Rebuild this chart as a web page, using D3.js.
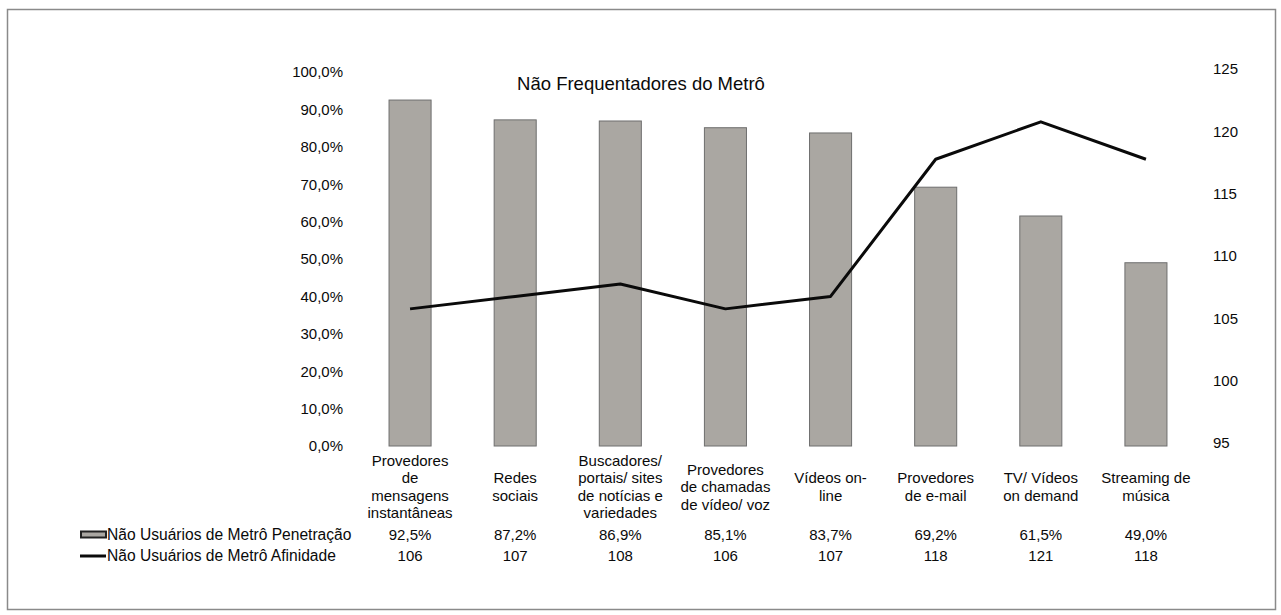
<!DOCTYPE html>
<html>
<head>
<meta charset="utf-8">
<script src="https://cdn.jsdelivr.net/npm/d3@7"></script>
<style>
  html, body { margin: 0; padding: 0; background: #fff; }
  svg { display: block; }
  text { font-family: "Liberation Sans", Arial, Helvetica, sans-serif; fill: #0a0a0a; }
</style>
</head>
<body>
<svg id="chart" width="1281" height="615"></svg>
<script>
// Categories (each entry is the wrapped lines of the label)
const categories = [
  ["Provedores", "de", "mensagens", "instantâneas"],
  ["Redes", "sociais"],
  ["Buscadores/", "portais/ sites", "de notícias e", "variedades"],
  ["Provedores", "de chamadas", "de vídeo/ voz"],
  ["Vídeos on-", "line"],
  ["Provedores", "de e-mail"],
  ["TV/ Vídeos", "on demand"],
  ["Streaming de", "música"]
];

// Penetration share (fraction) and affinity index
const penetracao = [0.925, 0.872, 0.869, 0.851, 0.837, 0.692, 0.615, 0.490];
const afinidade  = [106, 107, 108, 106, 107, 118, 121, 118];

const seriesNames = ["Não Usuários de Metrô Penetração", "Não Usuários de Metrô Afinidade"];
const title = "Não Frequentadores do Metrô";

const leftTicks  = [0, 0.1, 0.2, 0.3, 0.4, 0.5, 0.6, 0.7, 0.8, 0.9, 1.0];
const rightTicks = [95, 100, 105, 110, 115, 120, 125];

// Brazilian Portuguese number formatting (comma as decimal separator)
const ptBR = d3.formatLocale({ decimal: ",", thousands: ".", grouping: [3], currency: ["R$", ""] });
const fmtPct = ptBR.format(".1%");
const fmtInt = ptBR.format("d");

const svg = d3.select("#chart");

// Outer frame
svg.append("rect")
  .attr("x", 7.5).attr("y", 9.5)
  .attr("width", 1268).attr("height", 600)
  .attr("fill", "none")
  .attr("stroke", "#8a8a8a")
  .attr("stroke-width", 1.5);

const plotTop = 72, plotBottom = 446;

const x = d3.scaleBand()
  .domain(d3.range(categories.length))
  .range([357.5, 1198.5])
  .paddingInner(0.6)
  .paddingOuter(0.3);

const yLeft = d3.scaleLinear().domain([0, 1]).range([plotBottom, plotTop]);
const yRight = d3.scaleLinear().domain([95, 125]).range([plotBottom, plotTop]);

const fontSize = 15;

// Left axis
const gLeft = svg.append("g")
  .attr("transform", "translate(343,0)")
  .call(d3.axisLeft(yLeft).tickValues(leftTicks).tickFormat(fmtPct).tickSize(0).tickPadding(0));
gLeft.select(".domain").remove();
gLeft.selectAll("text")
  .attr("font-size", fontSize)
  .attr("font-family", "Liberation Sans, Arial, sans-serif")
  .attr("fill", "#0a0a0a");

// Right axis
const gRight = svg.append("g")
  .attr("transform", "translate(1213,-3)")
  .call(d3.axisRight(yRight).tickValues(rightTicks).tickFormat(fmtInt).tickSize(0).tickPadding(0));
gRight.select(".domain").remove();
gRight.selectAll("text")
  .attr("font-size", fontSize)
  .attr("font-family", "Liberation Sans, Arial, sans-serif")
  .attr("fill", "#0a0a0a");

// Bars
svg.append("g").selectAll("rect")
  .data(penetracao)
  .join("rect")
  .attr("x", (d, i) => x(i))
  .attr("y", d => yLeft(d))
  .attr("width", x.bandwidth())
  .attr("height", d => yLeft(0) - yLeft(d))
  .attr("fill", "#aaa7a2")
  .attr("stroke", "#6e6e6e")
  .attr("stroke-width", 1);

// Affinity line
const line = d3.line()
  .x((d, i) => x(i) + x.bandwidth() / 2)
  .y(d => yRight(d));
svg.append("path")
  .datum(afinidade)
  .attr("d", line)
  .attr("fill", "none")
  .attr("stroke", "#0a0a0a")
  .attr("stroke-width", 3)
  .attr("stroke-linejoin", "round");

// Title
svg.append("text")
  .attr("x", 641).attr("y", 90)
  .attr("text-anchor", "middle")
  .attr("font-size", 18.5)
  .text(title);

// Category labels, vertically centred on a common line
const lineH = 17.5;
const catMid = 487;
const catG = svg.append("g");
categories.forEach((lines, i) => {
  const cx = x(i) + x.bandwidth() / 2;
  const t = catG.append("text")
    .attr("text-anchor", "middle")
    .attr("font-size", fontSize);
  lines.forEach((ln, j) => {
    t.append("tspan")
      .attr("x", cx)
      .attr("y", catMid + (j - (lines.length - 1) / 2) * lineH + 5)
      .text(ln);
  });
});

// Data table rows
const rowY = [540, 561];
const tbl = svg.append("g");
tbl.selectAll("text.pen")
  .data(penetracao)
  .join("text")
  .attr("class", "pen")
  .attr("x", (d, i) => x(i) + x.bandwidth() / 2)
  .attr("y", rowY[0])
  .attr("text-anchor", "middle")
  .attr("font-size", fontSize)
  .text(d => fmtPct(d));
tbl.selectAll("text.afi")
  .data(afinidade)
  .join("text")
  .attr("class", "afi")
  .attr("x", (d, i) => x(i) + x.bandwidth() / 2)
  .attr("y", rowY[1])
  .attr("text-anchor", "middle")
  .attr("font-size", fontSize)
  .text(d => fmtInt(d));

// Legend keys with row labels
tbl.append("rect")
  .attr("x", 81).attr("y", rowY[0] - 8.5)
  .attr("width", 25).attr("height", 6)
  .attr("fill", "#aaa7a2")
  .attr("stroke", "#222")
  .attr("stroke-width", 2);
tbl.append("line")
  .attr("x1", 80).attr("x2", 106)
  .attr("y1", rowY[1] - 5).attr("y2", rowY[1] - 5)
  .attr("stroke", "#0a0a0a")
  .attr("stroke-width", 3);
seriesNames.forEach((name, k) => {
  tbl.append("text")
    .attr("x", 107).attr("y", rowY[k])
    .attr("font-size", 15.6)
    .text(name);
});
</script>
</body>
</html>
